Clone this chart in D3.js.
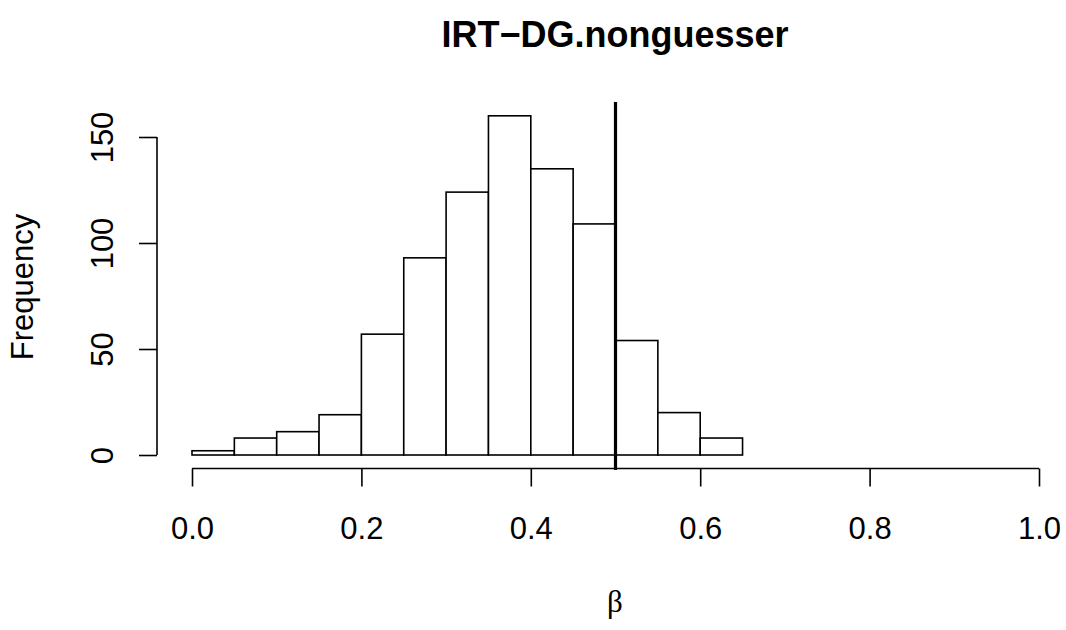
<!DOCTYPE html>
<html><head><meta charset="utf-8">
<script src="https://cdn.jsdelivr.net/npm/d3@7"></script>
<style>html,body{margin:0;padding:0;background:#fff;}svg{display:block;}</style>
</head><body>
<svg id="chart" width="1066" height="630"></svg>
<script>
const title = "IRT\u2212DG.nonguesser";
const binEdgesLow = [0.00,0.05,0.10,0.15,0.20,0.25,0.30,0.35,0.40,0.45,0.50,0.55,0.60];
const binWidth = 0.05;
const counts = [2,8,11,19,57,93,124,160,135,109,54,20,8];
const xTicks = [0,0.2,0.4,0.6,0.8,1.0];
const yTicks = [0,50,100,150];
const refLine = 0.5;

const svg = d3.select("#chart");
const x = d3.scaleLinear().domain([0,1]).range([192,1039]);
const y = d3.scaleLinear().domain([0,150]).range([455,137]);
const FS = 31;

// bars
svg.append("g").selectAll("rect").data(counts).join("rect")
  .attr("x",(d,i)=>x(binEdgesLow[i]))
  .attr("width",(d,i)=>x(binEdgesLow[i]+binWidth)-x(binEdgesLow[i]))
  .attr("y",d=>y(d))
  .attr("height",d=>y(0)-y(d))
  .attr("fill","#fff").attr("stroke","#000").attr("stroke-width",1.6);

// x axis
const xAxis = svg.append("g").attr("transform","translate(0,468.5)")
  .call(d3.axisBottom(x).tickValues(xTicks).tickFormat(d3.format(".1f")).tickSize(18).tickPadding(30));
// y axis
const yAxis = svg.append("g").attr("transform","translate(157,0)")
  .call(d3.axisLeft(y).tickValues(yTicks).tickSize(18).tickPadding(10));
[xAxis,yAxis].forEach(g=>{
  g.select(".domain").attr("stroke","#000").attr("stroke-width",1.6);
  g.selectAll(".tick line").attr("stroke","#000").attr("stroke-width",1.6);
  g.selectAll("text").attr("font-family","'Liberation Sans', Arial, sans-serif").attr("font-size",FS).attr("fill","#000");
});
xAxis.selectAll(".tick text").attr("dy",null).attr("y",70.5);
xAxis.select(".domain").attr("d",`M${x(0)},0H${x(1)}`);
yAxis.select(".domain").attr("d",`M0,${y(0)}V${y(150)}`);
yAxis.selectAll(".tick text")
  .attr("transform",`rotate(-90,-44,0)`)
  .attr("x",-44).attr("y",0).attr("dy","0").attr("text-anchor","middle");

// reference line
svg.append("line").attr("x1",x(refLine)).attr("x2",x(refLine))
  .attr("y1",102).attr("y2",470).attr("stroke","#000").attr("stroke-width",3.2);

// title
svg.append("text").attr("x",615).attr("y",47).attr("text-anchor","middle")
  .attr("font-family","'Liberation Sans', Arial, sans-serif").attr("font-weight","bold").attr("font-size",36)
  .text(title);
// x label
svg.append("text").attr("x",615).attr("y",612).attr("text-anchor","middle")
  .attr("font-family","'Liberation Serif', 'DejaVu Serif', serif").attr("font-size",31).text("\u03B2");
// y label
svg.append("text").attr("transform","translate(33,287) rotate(-90)").attr("text-anchor","middle")
  .attr("font-family","'Liberation Sans', Arial, sans-serif").attr("font-size",FS).text("Frequency");
</script>
</body></html>
